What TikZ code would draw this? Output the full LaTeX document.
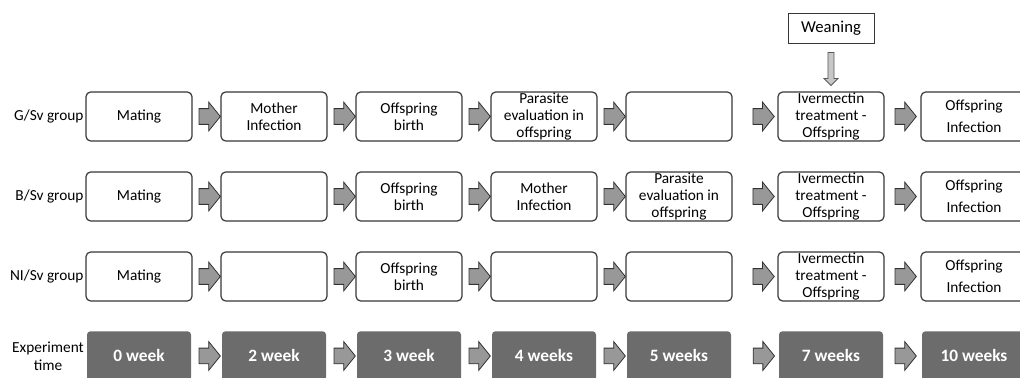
\documentclass[tikz,border=0pt]{standalone}
\usepackage{fontspec}
\setmainfont{Carlito}
\usetikzlibrary{shapes.arrows,positioning}

\definecolor{timegray}{RGB}{108,108,108}
\definecolor{arrowgray}{RGB}{152,152,152}
\definecolor{edgegray}{RGB}{55,55,55}

\begin{document}
\begin{tikzpicture}[x=0.75pt,y=-0.75pt,node distance=101.25pt,
      stage/.style={draw=edgegray,line width=0.9pt,rounded corners=3.5pt,fill=white,
        minimum width=79.5pt,minimum height=36.75pt,inner ysep=0pt,align=center,
        font=\fontsize{11.5}{12.6}\selectfont},
      widestage/.style={stage,font=\fontsize{11.5}{16.5}\selectfont},
      timebox/.style={fill=timegray,rounded corners=2.5pt,minimum width=78pt,
        minimum height=37pt,text=white,font=\fontsize{13}{15}\selectfont\bfseries},
      grouplabel/.style={align=center,inner sep=0pt,font=\fontsize{11.5}{13.5}\selectfont},
      blockarrow/.style={single arrow,draw=black!80,fill=arrowgray,line width=0.6pt,
        minimum height=16pt,minimum width=21pt,single arrow head extend=4.9pt,
        single arrow tip angle=102,inner xsep=0pt,inner ysep=5.6pt}]

    \useasboundingbox (0,0) rectangle (1020,378);

    % G/Sv group
    \node[stage] (g1) at (139,116.5) {Mating};
    \node[stage] (g2) [right of=g1] {Mother\\Infection};
    \node[stage] (g3) [right of=g2] {Offspring\\birth};
    \node[stage] (g4) [right of=g3] {Parasite\\evaluation in\\offspring};
    \node[stage] (g5) [right of=g4] {};
    \node[stage] (g6) [right of=g5, node distance=114pt] {Ivermectin\\treatment -\\Offspring};
    \node[widestage] (g7) [right of=g6, node distance=107.25pt] {Offspring\\Infection};

    % B/Sv group
    \node[stage] (b1) [below of=g1, node distance=60pt] {Mating};
    \node[stage] (b2) [right of=b1] {};
    \node[stage] (b3) [right of=b2] {Offspring\\birth};
    \node[stage] (b4) [right of=b3] {Mother\\Infection};
    \node[stage] (b5) [right of=b4] {Parasite\\evaluation in\\offspring};
    \node[stage] (b6) [right of=b5, node distance=114pt] {Ivermectin\\treatment -\\Offspring};
    \node[widestage] (b7) [right of=b6, node distance=107.25pt] {Offspring\\Infection};

    % NI/Sv group
    \node[stage] (n1) [below of=b1, node distance=60pt] {Mating};
    \node[stage] (n2) [right of=n1] {};
    \node[stage] (n3) [right of=n2] {Offspring\\birth};
    \node[stage] (n4) [right of=n3] {};
    \node[stage] (n5) [right of=n4] {};
    \node[stage] (n6) [right of=n5, node distance=114pt] {Ivermectin\\treatment -\\Offspring};
    \node[widestage] (n7) [right of=n6, node distance=107.25pt] {Offspring\\Infection};

    % time line
    \node[timebox] (t1) [below of=n1, node distance=59.6pt] {0 week};
    \node[timebox] (t2) [right of=t1] {2 week};
    \node[timebox] (t3) [right of=t2] {3 week};
    \node[timebox] (t4) [right of=t3] {4 weeks};
    \node[timebox] (t5) [right of=t4] {5 weeks};
    \node[timebox] (t6) [right of=t5, node distance=114pt] {7 weeks};
    \node[timebox] (t7) [right of=t6, node distance=107.25pt] {10 weeks};

    \node[grouplabel] (lg) [left=1.2pt of g1] {G/Sv group};
    \node[grouplabel] (lb) [left=1.2pt of b1] {B/Sv group};
    \node[grouplabel] (ln) [left=1.2pt of n1] {NI/Sv group};
    \node[grouplabel] (lt) [left=2pt of t1] {Experiment\\time};

    \node[draw=edgegray,line width=0.7pt,minimum width=64.5pt,minimum height=22.5pt,
      inner sep=0pt,font=\fontsize{12.5}{14}\selectfont] (wean) at (831,28) {Weaning};

    \path (wean) -- node[blockarrow,shape border rotate=270,fill=black!22,draw=black!65,
      minimum height=24.75pt,minimum width=9.75pt,single arrow head extend=2.9pt,
      single arrow tip angle=90,inner sep=2pt] {} (g6);

    \path (g1) -- node[blockarrow] {} (g2)
    (g2) -- node[blockarrow] {} (g3)
    (g3) -- node[blockarrow] {} (g4)
    (g4) -- node[blockarrow] {} (g5)
    (g5) -- node[blockarrow,pos=0.62] {} (g6)
    (g6) -- node[blockarrow] {} (g7);

    \path (b1) -- node[blockarrow] {} (b2)
    (b2) -- node[blockarrow] {} (b3)
    (b3) -- node[blockarrow] {} (b4)
    (b4) -- node[blockarrow] {} (b5)
    (b5) -- node[blockarrow,pos=0.62] {} (b6)
    (b6) -- node[blockarrow] {} (b7);

    \path (n1) -- node[blockarrow] {} (n2)
    (n2) -- node[blockarrow] {} (n3)
    (n3) -- node[blockarrow] {} (n4)
    (n4) -- node[blockarrow] {} (n5)
    (n5) -- node[blockarrow,pos=0.62] {} (n6)
    (n6) -- node[blockarrow] {} (n7);

    \path (t1) -- node[blockarrow] {} (t2)
    (t2) -- node[blockarrow] {} (t3)
    (t3) -- node[blockarrow] {} (t4)
    (t4) -- node[blockarrow] {} (t5)
    (t5) -- node[blockarrow,pos=0.62] {} (t6)
    (t6) -- node[blockarrow] {} (t7);
  \end{tikzpicture}
\end{document}
